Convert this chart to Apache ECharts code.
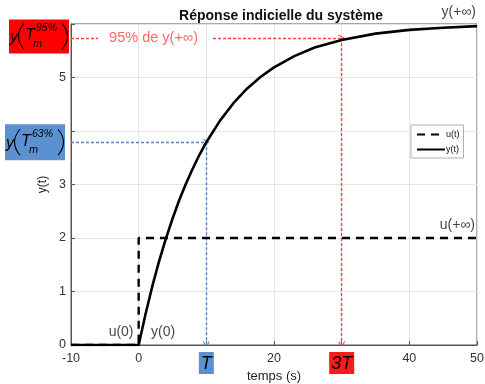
<!DOCTYPE html>
<html><head><meta charset="utf-8">
<script src="https://cdn.jsdelivr.net/npm/echarts@6/dist/echarts.min.js"></script>
<style>html,body{margin:0;padding:0;background:#fff}#c{width:485px;height:384px}</style>
</head><body><div id="c"></div>
<script>
// ---- data ----
const tY = [-10, 0, 1, 2, 3, 4, 5, 6, 7, 8, 9, 10, 12, 14, 16, 18, 20, 23, 26, 30, 35, 40, 45, 50];
const yVals = [0, 0, 0.57, 1.09, 1.56, 1.98, 2.36, 2.71, 3.02, 3.30, 3.56, 3.79, 4.19, 4.52, 4.79, 5.01, 5.19, 5.40, 5.56, 5.70, 5.82, 5.89, 5.93, 5.96];
const tU = [-10, 0, 0, 50];
const uVals = [0, 0, 2, 2];
const xTickText = {10: 'T', 30: '3T'};
const yHiddenTicks = [4, 6];
const tT = 10, t3T = 30;
const y63 = 3.79, y95 = 5.74;
const redGap = [-6, 11]; // where the "95% de y(+∞)" text interrupts the dashed line
const textLabels = [
  {name: 'y(+∞)', value: [47.3, 6.22]},
  {name: 'u(+∞)', value: [47.1, 2.24]},
  {name: 'u(0)', value: [-2.6, 0.24]},
  {name: 'y(0)', value: [3.6, 0.24]}
];
const label95 = {name: '95% de y(+∞)', value: [2.2, y95]};

const FONT = 'Liberation Sans, Arial, sans-serif';
const RED = '#ff4040', BLUE = '#5a82b8';
const chevron = 'path://M0,10 L5,0 L10,10 L8.4,10 L5,3.2 L1.6,10 Z';

const chart = echarts.init(document.getElementById('c'), null, {renderer: 'canvas'});
const option = {
  animation: false,
  backgroundColor: '#fff',
  title: {text: 'Réponse indicielle du système', left: 276, top: 4, textAlign: 'center',
    textStyle: {fontFamily: FONT, fontSize: 14, fontWeight: 'bold', color: '#111'}},
  grid: {left: 71, right: 8, top: 24, bottom: 39, outerBoundsMode: 'none', containLabel: false,
    show: true, borderColor: '#555', borderWidth: 1, backgroundColor: 'transparent'},
  legend: {
    data: ['u(t)', 'y(t)'], orient: 'vertical', left: 411, top: 125,
    itemWidth: 28, itemHeight: 10, itemGap: 6, padding: [5, 4, 4, 5],
    borderColor: '#b0b0b0', borderWidth: 1, backgroundColor: '#fff',
    itemStyle: {opacity: 0},
    textStyle: {fontFamily: FONT, fontSize: 9, color: '#111', padding: [0, 0, 0, -4]}
  },
  xAxis: {
    type: 'value', min: -10, max: 50, interval: 10,
    name: 'temps (s)', nameLocation: 'middle', nameGap: 25, nameMoveOverlap: false,
    nameTextStyle: {fontFamily: FONT, fontSize: 13, color: '#222'},
    axisLine: {show: true, onZero: false, lineStyle: {color: '#555', width: 1}},
    axisTick: {show: true, inside: true, length: 4, lineStyle: {color: '#555'}},
    splitLine: {show: true, lineStyle: {color: '#e4e4e4', width: 1}},
    axisLabel: {
      fontFamily: FONT, fontSize: 12.5, color: '#333', margin: 7,
      formatter: v => xTickText[v] ? (v === tT ? '{b|' + xTickText[v] + '}' : '{r|' + xTickText[v] + '}') : String(v),
      rich: {
        b: {fontFamily: FONT, fontSize: 18, fontStyle: 'italic', color: '#000', backgroundColor: '#5b91d0', padding: [3, 2, 1, 2], height: 18},
        r: {fontFamily: FONT, fontSize: 18, fontStyle: 'italic', color: '#000', backgroundColor: '#ff1a1a', padding: [3, 2, 1, 2], height: 18}
      }
    }
  },
  yAxis: {
    type: 'value', min: 0, max: 6, interval: 1,
    name: 'y(t)', nameLocation: 'middle', nameGap: 22, nameMoveOverlap: false,
    nameTextStyle: {fontFamily: FONT, fontSize: 12, color: '#222'},
    axisLine: {show: true, onZero: false, lineStyle: {color: '#555', width: 1}},
    axisTick: {show: true, inside: true, length: 4, lineStyle: {color: '#555'}},
    splitLine: {show: true, lineStyle: {color: '#e4e4e4', width: 1}},
    axisLabel: {fontFamily: FONT, fontSize: 12.5, color: '#333', margin: 5,
      formatter: v => yHiddenTicks.includes(v) ? '' : String(v)}
  },
  series: [
    {type: 'lines', coordinateSystem: 'cartesian2d', silent: true, z: 3,
      symbol: ['none', chevron], symbolSize: [9, 7],
      lineStyle: {color: BLUE, width: 1.4, type: [3, 2], opacity: 1},
      data: [{coords: [[-10, y63], [tT, y63]]}, {coords: [[tT, y63], [tT, 0]]}]},
    {type: 'lines', coordinateSystem: 'cartesian2d', silent: true, z: 3,
      symbol: 'none',
      lineStyle: {color: RED, width: 1.4, type: [3, 2], opacity: 1},
      data: [{coords: [[-10, y95], [redGap[0], y95]]}]},
    {type: 'lines', coordinateSystem: 'cartesian2d', silent: true, z: 3,
      symbol: ['none', chevron], symbolSize: [9, 7],
      lineStyle: {color: RED, width: 1.4, type: [3, 2], opacity: 1},
      data: [{coords: [[redGap[1], y95], [t3T, y95]]}, {coords: [[t3T, y95], [t3T, 0]]}]},
    {name: 'u(t)', type: 'line', z: 4, showSymbol: false, symbol: 'none',
      data: tU.map((t, i) => [t, uVals[i]]),
      lineStyle: {color: '#000', width: 2.4, type: [8, 6]}, itemStyle: {color: '#000'}},
    {name: 'y(t)', type: 'line', z: 5, showSymbol: false, symbol: 'none',
      data: tY.map((t, i) => [t, yVals[i]]),
      lineStyle: {color: '#000', width: 2.6}, itemStyle: {color: '#000'}},
    {type: 'scatter', z: 6, symbolSize: 0, clip: false, silent: true,
      data: textLabels,
      label: {show: true, position: 'inside', formatter: p => p.name,
        fontFamily: FONT, fontSize: 14, color: '#111'}},
    {type: 'scatter', z: 6, symbolSize: 0, clip: false, silent: true,
      data: [label95],
      label: {show: true, position: 'inside', formatter: p => p.name,
        fontFamily: FONT, fontSize: 14.5, color: RED}}
  ]
};
chart.setOption(option);

function boxLabel(x0, yc, w, h, fill, sup) {
  const it = 'italic';
  const paren = (xe, xc) => ({type: 'bezierCurve', shape: {x1: xe, y1: -13, x2: xe, y2: 13, cpx1: xc, cpy1: 0},
    style: {stroke: '#000', lineWidth: 1.1, fill: null}});
  return {type: 'group', x: x0, y: yc, z: 100, children: [
    {type: 'rect', shape: {x: 0, y: -h / 2, width: w, height: h}, style: {fill: fill}},
    {type: 'text', x: 1, y: 1, style: {text: 'y', font: it + ' 16px ' + FONT, fill: '#000', verticalAlign: 'middle'}},
    paren(15, 4),
    {type: 'text', x: 16, y: -1, style: {text: 'T', font: it + ' 16px ' + FONT, fill: '#000', verticalAlign: 'middle'}},
    {type: 'text', x: 27, y: -8, style: {text: sup, font: it + ' 10.5px ' + FONT, fill: '#000', verticalAlign: 'middle'}},
    {type: 'text', x: 24, y: 8, style: {text: 'm', font: it + ' 11px ' + FONT, fill: '#000', verticalAlign: 'middle'}},
    paren(53, 64)
  ]};
}
const p63 = chart.convertToPixel({gridIndex: 0}, [-10, y63]);
const p95 = chart.convertToPixel({gridIndex: 0}, [-10, y95]);
chart.setOption({graphic: [
  boxLabel(5, p63[1], 60, 36, '#5b91d0', '63%'),
  boxLabel(9, p95[1] - 1.5, 60, 34, '#ff0000', '95%')
]});
</script></body></html>
